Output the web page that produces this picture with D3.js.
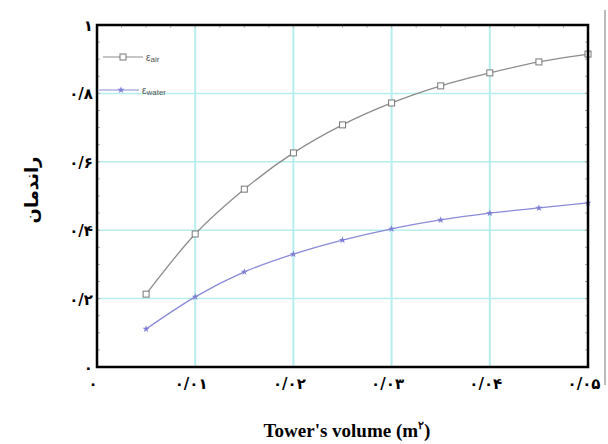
<!DOCTYPE html>
<html>
<head>
<meta charset="utf-8">
<script src="https://cdn.jsdelivr.net/npm/d3@7"></script>
<style>
  body { margin: 0; background: #fff; }
  svg { display: block; }
</style>
</head>
<body>
<div id="plot"></div>
<script>
// data
var volumes = [0.005, 0.01, 0.015, 0.02, 0.025, 0.03, 0.035, 0.04, 0.045, 0.05];
var airEff = [0.213, 0.389, 0.52, 0.626, 0.708, 0.772, 0.822, 0.86, 0.892, 0.915];
var waterEff = [0.111, 0.205, 0.278, 0.330, 0.371, 0.404, 0.43, 0.45, 0.465, 0.48];

var xTicks = [0, 0.01, 0.02, 0.03, 0.04, 0.05];
var xTickLabels = ["۰", "۰/۰۱", "۰/۰۲", "۰/۰۳", "۰/۰۴", "۰/۰۵"];
var yTicks = [0, 0.2, 0.4, 0.6, 0.8, 1];
var yTickLabels = ["۰", "۰/۲", "۰/۴", "۰/۶", "۰/۸", "۱"];

var seriesNames = ["air", "water"];
var yLabel = "راندمان";
var xLabel = "Tower's volume (m";
var xLabelSup = "۲";

var width = 608, height = 444;
var plotLeft = 97, plotRight = 588, plotTop = 25, plotBottom = 367;

var svg = d3.select("#plot").append("svg")
  .attr("width", width)
  .attr("height", height);

var x = d3.scaleLinear().domain([0, 0.05]).range([plotLeft, plotRight]);
var y = d3.scaleLinear().domain([0, 1]).range([plotBottom, plotTop]);

// grey page edge on the right
svg.append("line")
  .attr("x1", 605).attr("x2", 605).attr("y1", 10).attr("y2", 385)
  .attr("stroke", "#bbb").attr("stroke-width", 2);

// grid
svg.append("g").selectAll("line")
  .data(xTicks.slice(1, -1))
  .enter().append("line")
  .attr("x1", function (d) { return x(d); })
  .attr("x2", function (d) { return x(d); })
  .attr("y1", plotTop).attr("y2", plotBottom)
  .attr("stroke", "#b6eeee").attr("stroke-width", 2);

svg.append("g").selectAll("line")
  .data(yTicks.slice(1, -1))
  .enter().append("line")
  .attr("y1", function (d) { return y(d); })
  .attr("y2", function (d) { return y(d); })
  .attr("x1", plotLeft).attr("x2", plotRight)
  .attr("stroke", "#b6eeee").attr("stroke-width", 1.5);

// small inner ticks along the frame
var minorY = d3.range(0, 1.0001, 0.05);
var minorX = d3.range(0, 0.05001, 0.0025);
svg.append("g").selectAll("line").data(minorY).enter().append("line")
  .attr("x1", plotRight - 3).attr("x2", plotRight)
  .attr("y1", function (d) { return y(d); }).attr("y2", function (d) { return y(d); })
  .attr("stroke", "#aaa");
svg.append("g").selectAll("line").data(minorY).enter().append("line")
  .attr("x1", plotLeft).attr("x2", plotLeft + 3)
  .attr("y1", function (d) { return y(d); }).attr("y2", function (d) { return y(d); })
  .attr("stroke", "#aaa");
svg.append("g").selectAll("line").data(minorX).enter().append("line")
  .attr("y1", plotTop).attr("y2", plotTop + 3)
  .attr("x1", function (d) { return x(d); }).attr("x2", function (d) { return x(d); })
  .attr("stroke", "#bbb");

// lines
var line = d3.line()
  .x(function (d, i) { return x(volumes[i]); })
  .y(function (d) { return y(d); })
  .curve(d3.curveMonotoneX);

svg.append("path").datum(airEff)
  .attr("d", line).attr("fill", "none")
  .attr("stroke", "#8c8c8c").attr("stroke-width", 1.3);

svg.append("path").datum(waterEff)
  .attr("d", line).attr("fill", "none")
  .attr("stroke", "#8a8ad8").attr("stroke-width", 1.3);

// markers
svg.append("g").selectAll("rect").data(airEff).enter().append("rect")
  .attr("x", function (d, i) { return x(volumes[i]) - 3; })
  .attr("y", function (d) { return y(d) - 3; })
  .attr("width", 6).attr("height", 6)
  .attr("fill", "#fff").attr("stroke", "#777").attr("stroke-width", 1);

var star = d3.symbol().type(d3.symbolStar).size(16);
svg.append("g").selectAll("path").data(waterEff).enter().append("path")
  .attr("d", star)
  .attr("transform", function (d, i) { return "translate(" + x(volumes[i]) + "," + y(d) + ")"; })
  .attr("fill", "#7f7fd6");

// frame
svg.append("rect")
  .attr("x", plotLeft).attr("y", plotTop)
  .attr("width", plotRight - plotLeft).attr("height", plotBottom - plotTop)
  .attr("fill", "none").attr("stroke", "#000").attr("stroke-width", 2.5);

// legend
var legend = svg.append("g");
legend.append("line").attr("x1", 103).attr("x2", 143).attr("y1", 57).attr("y2", 57)
  .attr("stroke", "#8c8c8c");
legend.append("rect").attr("x", 120).attr("y", 54).attr("width", 6).attr("height", 6)
  .attr("fill", "#fff").attr("stroke", "#777");
legend.append("line").attr("x1", 99).attr("x2", 139).attr("y1", 90).attr("y2", 90)
  .attr("stroke", "#8a8ad8");
legend.append("path").attr("d", star).attr("transform", "translate(121,90)")
  .attr("fill", "#7f7fd6");

var legText = legend.selectAll("text").data(seriesNames).enter().append("text")
  .attr("x", function (d, i) { return i === 0 ? 146 : 142; })
  .attr("y", function (d, i) { return i === 0 ? 61 : 94; })
  .attr("font-family", "Liberation Sans, Arial, sans-serif")
  .attr("font-size", 10)
  .attr("fill", "#555");
legText.append("tspan").text("ε");
legText.append("tspan").attr("font-size", 8).attr("dy", 1).text(function (d) { return d; });

// tick labels
svg.append("g").selectAll("text").data(xTicks).enter().append("text")
  .attr("x", function (d) { return x(d) - 4; })
  .attr("y", 389)
  .attr("text-anchor", "middle")
  .attr("font-family", "DejaVu Sans, sans-serif")
  .attr("font-weight", "bold")
  .attr("font-size", 15)
  .text(function (d, i) { return xTickLabels[i]; });

svg.append("g").selectAll("text").data(yTicks).enter().append("text")
  .attr("x", 93)
  .attr("y", function (d) { return y(d) + 6; })
  .attr("text-anchor", "end")
  .attr("font-family", "DejaVu Sans, sans-serif")
  .attr("font-weight", "bold")
  .attr("font-size", 15)
  .text(function (d, i) { return yTickLabels[i]; });

// axis titles
svg.append("text")
  .attr("transform", "translate(38,190) rotate(-90)")
  .attr("text-anchor", "middle")
  .attr("font-family", "DejaVu Sans, sans-serif")
  .attr("font-weight", "bold")
  .attr("font-size", 18)
  .text(yLabel);

var xt = svg.append("text")
  .attr("x", 347).attr("y", 437)
  .attr("text-anchor", "middle")
  .attr("font-family", "Liberation Serif, Times New Roman, serif")
  .attr("font-weight", "bold")
  .attr("font-size", 19);
xt.append("tspan").text(xLabel);
xt.append("tspan").attr("font-size", 11).attr("dy", -8).text(xLabelSup);
xt.append("tspan").attr("dy", 8).text(")");
</script>
</body>
</html>
